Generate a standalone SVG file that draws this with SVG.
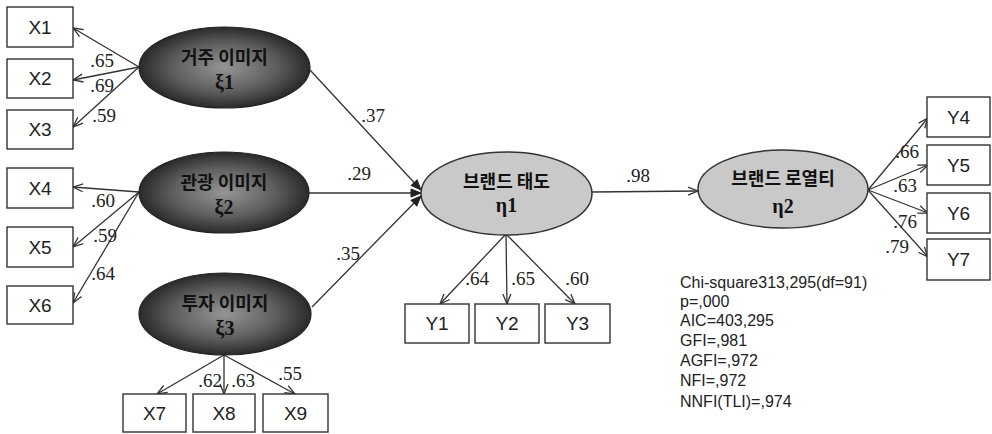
<svg xmlns="http://www.w3.org/2000/svg" width="992" height="434" viewBox="0 0 992 434">
<defs>
<radialGradient id="dark" cx="50%" cy="50%" r="50%">
<stop offset="0" stop-color="#959595"/>
<stop offset="0.6" stop-color="#5e5e5e"/>
<stop offset="1" stop-color="#2a2a2a"/>
</radialGradient>
<marker id="arr" markerWidth="12" markerHeight="10" refX="11" refY="5" orient="auto" markerUnits="userSpaceOnUse">
<path d="M1,1 L11,5 L1,9" fill="none" stroke="#333" stroke-width="1.3"/>
</marker>
<marker id="arrf" markerWidth="12" markerHeight="10" refX="11" refY="5" orient="auto" markerUnits="userSpaceOnUse">
<path d="M1,1 L11,5 L1,9 Z" fill="#222" stroke="#222" stroke-width="1"/>
</marker>
<style>
.box{fill:#fff;stroke:#333;stroke-width:1.4}
.bl{font-family:"Liberation Sans",Arial,sans-serif;font-size:19px;fill:#222;text-anchor:middle;dominant-baseline:central}
.dk{fill:url(#dark);stroke:#222;stroke-width:1.2}
.lt{fill:#c9c9c9;stroke:#333;stroke-width:1.5}
.ko{font-family:"Noto Sans CJK KR",sans-serif;font-size:18px;font-weight:bold;fill:#111;text-anchor:middle;dominant-baseline:central}
.gr{font-family:"Liberation Serif","Times New Roman",serif;font-size:20px;font-weight:bold;fill:#111;text-anchor:middle;dominant-baseline:central}
.c line{stroke:#333;stroke-width:1.3;fill:none;marker-end:url(#arr)}
.c line.f{marker-end:url(#arrf)}
.num{font-family:"Liberation Serif","Times New Roman",serif;font-size:19px;fill:#222;text-anchor:middle}
.st{font-family:"Liberation Sans",Arial,sans-serif;font-size:16px;fill:#222}
</style>
</defs>
<rect width="992" height="434" fill="#fff"/>
<g class="c" id="connectors">
<line x1="139" y1="67" x2="73" y2="28"/>
<line x1="139" y1="67" x2="73" y2="80"/>
<line x1="139" y1="67" x2="73" y2="127"/>
<line x1="139" y1="192" x2="73" y2="187"/>
<line x1="139" y1="192" x2="73" y2="247"/>
<line x1="139" y1="192" x2="73" y2="303"/>
<line x1="224" y1="355" x2="157" y2="394"/>
<line x1="224" y1="355" x2="224" y2="394"/>
<line x1="224" y1="355" x2="295" y2="394"/>
<line class="f" x1="310" y1="70" x2="421" y2="190"/>
<line class="f" x1="308" y1="193" x2="421" y2="193"/>
<line class="f" x1="312" y1="307" x2="421" y2="196"/>
<line x1="506" y1="234" x2="440" y2="304"/>
<line x1="506" y1="234" x2="507" y2="304"/>
<line x1="506" y1="234" x2="575" y2="304"/>
<line x1="592" y1="192" x2="698" y2="191"/>
<line x1="868" y1="190" x2="928" y2="118"/>
<line x1="868" y1="190" x2="928" y2="165"/>
<line x1="868" y1="190" x2="928" y2="213"/>
<line x1="868" y1="190" x2="928" y2="257"/>
<text class="num" x="102" y="67">.65</text>
<text class="num" x="102" y="92">.69</text>
<text class="num" x="104" y="122">.59</text>
<text class="num" x="103" y="207">.60</text>
<text class="num" x="105" y="242">.59</text>
<text class="num" x="103" y="280">.64</text>
<text class="num" x="210" y="387">.62</text>
<text class="num" x="243" y="387">.63</text>
<text class="num" x="290" y="380">.55</text>
<text class="num" x="373" y="122">.37</text>
<text class="num" x="359" y="180">.29</text>
<text class="num" x="348" y="260">.35</text>
<text class="num" x="477" y="285">.64</text>
<text class="num" x="523" y="285">.65</text>
<text class="num" x="577" y="285">.60</text>
<text class="num" x="638" y="182">.98</text>
<text class="num" x="907" y="158">.66</text>
<text class="num" x="905" y="192">.63</text>
<text class="num" x="905" y="228">.76</text>
<text class="num" x="897" y="253">.79</text>
</g>
<g id="X1"><rect class="box" x="7" y="7" width="66" height="40"/><text class="bl" x="40" y="27">X1</text></g>
<g id="X2"><rect class="box" x="7" y="59" width="66" height="39"/><text class="bl" x="40" y="78.5">X2</text></g>
<g id="X3"><rect class="box" x="7" y="110" width="66" height="39"/><text class="bl" x="40" y="129.5">X3</text></g>
<g id="X4"><rect class="box" x="7" y="168" width="66" height="40"/><text class="bl" x="40" y="188">X4</text></g>
<g id="X5"><rect class="box" x="7" y="227" width="66" height="40"/><text class="bl" x="40" y="247">X5</text></g>
<g id="X6"><rect class="box" x="7" y="286" width="66" height="38"/><text class="bl" x="40" y="305">X6</text></g>
<g id="X7"><rect class="box" x="123" y="394" width="63" height="38"/><text class="bl" x="154.5" y="413">X7</text></g>
<g id="X8"><rect class="box" x="193" y="394" width="62" height="38"/><text class="bl" x="224" y="413">X8</text></g>
<g id="X9"><rect class="box" x="263" y="394" width="65" height="38"/><text class="bl" x="295.5" y="413">X9</text></g>
<g id="Y1"><rect class="box" x="405" y="304" width="64" height="39"/><text class="bl" x="437" y="323.5">Y1</text></g>
<g id="Y2"><rect class="box" x="475" y="304" width="64" height="39"/><text class="bl" x="507" y="323.5">Y2</text></g>
<g id="Y3"><rect class="box" x="545" y="304" width="65" height="39"/><text class="bl" x="577.5" y="323.5">Y3</text></g>
<g id="Y4"><rect class="box" x="927" y="97" width="63" height="40"/><text class="bl" x="958.5" y="117">Y4</text></g>
<g id="Y5"><rect class="box" x="927" y="145" width="63" height="40"/><text class="bl" x="958.5" y="165">Y5</text></g>
<g id="Y6"><rect class="box" x="927" y="193" width="63" height="40"/><text class="bl" x="958.5" y="213">Y6</text></g>
<g id="Y7"><rect class="box" x="927" y="239" width="63" height="41"/><text class="bl" x="958.5" y="259.5">Y7</text></g>
<g id="xi1"><ellipse class="dk" cx="224.5" cy="67.5" rx="85.5" ry="40.5"/><text class="ko" x="224.5" y="56">거주 이미지</text><text class="gr" x="224.5" y="82">ξ1</text></g>
<g id="xi2"><ellipse class="dk" cx="224" cy="192.5" rx="85" ry="40.5"/><text class="ko" x="224" y="181">관광 이미지</text><text class="gr" x="224" y="207">ξ2</text></g>
<g id="xi3"><ellipse class="dk" cx="225" cy="314" rx="86" ry="41"/><text class="ko" x="225" y="302">투자 이미지</text><text class="gr" x="225" y="328">ξ3</text></g>
<g id="eta1"><ellipse class="lt" cx="506.5" cy="193.5" rx="85.5" ry="41.5"/><text class="ko" x="506.5" y="180">브랜드 태도</text><text class="gr" x="506.5" y="205">η1</text></g>
<g id="eta2"><ellipse class="lt" cx="783" cy="189" rx="85" ry="39"/><text class="ko" x="783" y="177">브랜드 로열티</text><text class="gr" x="783" y="206">η2</text></g>
<g id="stats">
<text class="st" x="680" y="288">Chi-square313,295(df=91)</text>
<text class="st" x="680" y="307">p=,000</text>
<text class="st" x="680" y="326">AIC=403,295</text>
<text class="st" x="680" y="346">GFI=,981</text>
<text class="st" x="680" y="366">AGFI=,972</text>
<text class="st" x="680" y="386">NFI=,972</text>
<text class="st" x="680" y="407">NNFI(TLI)=,974</text>
</g>
</svg>
